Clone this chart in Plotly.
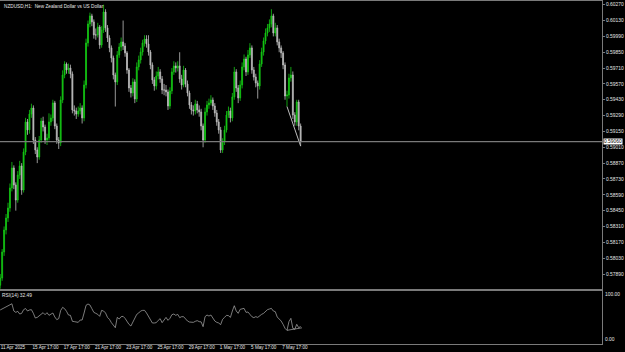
import plotly.graph_objects as go

# ---------------- data ----------------
SYMBOL_TITLE = "NZDUSD,H1:\u00a0 New Zealand Dollar vs US Dollar"
RSI_PERIOD = 14
RSI_LAST = 32.49
CURRENT_PRICE = 0.59060

# H1 bar index of each plotted candle (one candle per 3 hourly bars)
BAR_INDEX = list(range(0, 463, 3))
FIRST_OPEN = 0.57790

CLOSE = [
    0.57854, 0.58084, 0.58279, 0.58385, 0.58473, 0.58650, 0.58827, 0.58677, 0.58544, 0.58765,
    0.58845, 0.58632, 0.58968, 0.59234, 0.59163, 0.59304, 0.59357, 0.59074, 0.58986, 0.58924,
    0.59074, 0.59242, 0.59189, 0.59074, 0.59092, 0.59234, 0.59269, 0.59402, 0.59198, 0.59074,
    0.59048, 0.59428, 0.59649, 0.59746, 0.59693, 0.59711, 0.59658, 0.59340, 0.59331, 0.59304,
    0.59331, 0.59357, 0.59269, 0.59561, 0.59932, 0.60100, 0.60171, 0.60118, 0.60003, 0.60003,
    0.60073, 0.59914, 0.60047, 0.60206, 0.60065, 0.59976, 0.59888, 0.59799, 0.59649, 0.59587,
    0.59826, 0.59897, 0.59941, 0.59905, 0.59844, 0.59693, 0.59534, 0.59490, 0.59587, 0.59437,
    0.59720, 0.59782, 0.59852, 0.59932, 0.59967, 0.59923, 0.59852, 0.59737, 0.59605, 0.59552,
    0.59640, 0.59676, 0.59614, 0.59516, 0.59516, 0.59499, 0.59375, 0.59508, 0.59676, 0.59729,
    0.59711, 0.59729, 0.59614, 0.59561, 0.59693, 0.59569, 0.59490, 0.59384, 0.59340, 0.59331,
    0.59393, 0.59340, 0.59322, 0.59198, 0.59074, 0.59322, 0.59384, 0.59402, 0.59428, 0.59375,
    0.59313, 0.59234, 0.59163, 0.58986, 0.59057, 0.59163, 0.59295, 0.59331, 0.59269, 0.59455,
    0.59676, 0.59534, 0.59446, 0.59561, 0.59720, 0.59790, 0.59676, 0.59826, 0.59888, 0.59693,
    0.59631, 0.59578, 0.59552, 0.59746, 0.59852, 0.59950, 0.60020, 0.60065, 0.60100, 0.60171,
    0.60020, 0.60065, 0.59941, 0.59888, 0.59844, 0.59737, 0.59463, 0.59472, 0.59623, 0.59649,
    0.59295, 0.59234, 0.59410, 0.59198, 0.59060,
]

HIGH = [
    0.57890, 0.58110, 0.58310, 0.58420, 0.58520, 0.58690, 0.58880, 0.58850, 0.58700, 0.58800,
    0.58890, 0.58870, 0.59000, 0.59270, 0.59260, 0.59340, 0.59395, 0.59380, 0.59100, 0.59010,
    0.59110, 0.59270, 0.59280, 0.59210, 0.59130, 0.59310, 0.59300, 0.59430, 0.59420, 0.59220,
    0.59100, 0.59460, 0.59690, 0.59770, 0.59760, 0.59750, 0.59740, 0.59680, 0.59380, 0.59360,
    0.59370, 0.59400, 0.59380, 0.59600, 0.59970, 0.60130, 0.60200, 0.60190, 0.60140, 0.60060,
    0.60110, 0.60090, 0.60080, 0.60270, 0.60230, 0.60090, 0.60000, 0.59910, 0.59820, 0.59670,
    0.59860, 0.59930, 0.59980, 0.60130, 0.59930, 0.59860, 0.59710, 0.59560, 0.59620, 0.59610,
    0.59760, 0.59820, 0.59890, 0.59960, 0.60000, 0.60000, 0.60000, 0.59870, 0.59760, 0.59630,
    0.59680, 0.59720, 0.59700, 0.59640, 0.59570, 0.59560, 0.59520, 0.59540, 0.59710, 0.59770,
    0.59760, 0.59770, 0.59850, 0.59650, 0.59730, 0.59710, 0.59600, 0.59510, 0.59410, 0.59380,
    0.59430, 0.59420, 0.59380, 0.59350, 0.59220, 0.59360, 0.59420, 0.59440, 0.59470, 0.59450,
    0.59400, 0.59340, 0.59260, 0.59190, 0.59090, 0.59200, 0.59330, 0.59370, 0.59360, 0.59490,
    0.59720, 0.59700, 0.59560, 0.59600, 0.59760, 0.59830, 0.59810, 0.59870, 0.59930, 0.59910,
    0.59720, 0.59660, 0.59600, 0.59780, 0.59890, 0.59980, 0.60060, 0.60100, 0.60140, 0.60230,
    0.60190, 0.60110, 0.60090, 0.59970, 0.59910, 0.59860, 0.59760, 0.59510, 0.59660, 0.59720,
    0.59680, 0.59320, 0.59430, 0.59430, 0.59220,
]

LOW = [
    0.57760, 0.57830, 0.58050, 0.58240, 0.58350, 0.58440, 0.58620, 0.58640, 0.58450, 0.58520,
    0.58730, 0.58590, 0.58610, 0.58940, 0.59120, 0.59130, 0.59270, 0.59040, 0.58950, 0.58870,
    0.58900, 0.59050, 0.59150, 0.59040, 0.59030, 0.59070, 0.59200, 0.59240, 0.59170, 0.59040,
    0.58995, 0.59020, 0.59400, 0.59620, 0.59660, 0.59660, 0.59620, 0.59310, 0.59290, 0.59260,
    0.59280, 0.59300, 0.59220, 0.59240, 0.59530, 0.59900, 0.60070, 0.60080, 0.59970, 0.59960,
    0.59980, 0.59880, 0.59890, 0.60020, 0.60030, 0.59940, 0.59850, 0.59760, 0.59610, 0.59370,
    0.59560, 0.59800, 0.59860, 0.59870, 0.59810, 0.59660, 0.59500, 0.59450, 0.59460, 0.59400,
    0.59410, 0.59690, 0.59750, 0.59820, 0.59900, 0.59890, 0.59820, 0.59700, 0.59570, 0.59510,
    0.59520, 0.59610, 0.59580, 0.59480, 0.59470, 0.59460, 0.59340, 0.59350, 0.59480, 0.59650,
    0.59670, 0.59680, 0.59580, 0.59520, 0.59540, 0.59540, 0.59460, 0.59350, 0.59300, 0.59290,
    0.59300, 0.59310, 0.59280, 0.59160, 0.59010, 0.59050, 0.59290, 0.59350, 0.59380, 0.59340,
    0.59280, 0.59200, 0.59130, 0.58960, 0.58960, 0.59030, 0.59140, 0.59270, 0.59230, 0.59240,
    0.59430, 0.59500, 0.59400, 0.59420, 0.59530, 0.59690, 0.59640, 0.59650, 0.59800, 0.59660,
    0.59600, 0.59540, 0.59440, 0.59520, 0.59720, 0.59820, 0.59920, 0.59990, 0.60030, 0.60070,
    0.59990, 0.59990, 0.59910, 0.59850, 0.59800, 0.59700, 0.59430, 0.59370, 0.59440, 0.59590,
    0.59260, 0.59200, 0.59200, 0.59160, 0.59020,
]

RSI = [
    63.0, 64.8, 66.6, 68.5, 70.9, 72.2, 74.5, 61.1, 58.6, 60.5,
    55.5, 56.8, 63.6, 65.7, 61.1, 63.0, 63.6, 56.8, 48.1, 49.3,
    52.5, 55.5, 58.0, 54.3, 58.0, 53.1, 55.5, 57.4, 50.0, 45.1,
    47.0, 62.0, 67.9, 65.4, 60.5, 53.7, 53.1, 42.0, 41.4, 41.0,
    40.1, 44.4, 44.4, 57.4, 71.6, 74.1, 72.2, 65.4, 58.6, 56.8,
    54.9, 51.2, 62.3, 61.1, 57.4, 49.3, 45.7, 39.5, 35.2, 30.2,
    49.3, 46.3, 50.6, 51.2, 47.5, 40.7, 36.4, 33.3, 41.4, 49.3,
    54.9, 57.4, 61.1, 62.3, 62.3, 57.4, 50.6, 46.3, 38.9, 38.9,
    39.5, 43.8, 46.9, 39.5, 45.7, 49.3, 43.8, 47.5, 54.3, 55.5,
    53.1, 54.9, 48.8, 50.6, 50.6, 45.7, 42.6, 40.7, 40.7, 40.1,
    42.0, 43.2, 41.4, 41.0, 32.1, 50.6, 53.7, 51.8, 53.7, 48.8,
    42.6, 40.1, 38.9, 35.8, 45.7, 49.3, 53.1, 52.5, 49.3, 61.1,
    70.9, 61.1, 56.8, 64.2, 64.8, 66.0, 58.6, 59.3, 54.9, 50.6,
    48.8, 50.6, 49.3, 53.1, 54.9, 56.8, 60.5, 63.6, 64.8, 66.0,
    61.1, 59.9, 50.0, 46.3, 42.6, 36.4, 29.0, 25.3, 41.4, 47.5,
    29.0, 27.2, 36.4, 30.2, 32.49,
]

# user-drawn trend lines (bar index, value)
PRICE_TL_IDX = [441, 462]
PRICE_TL_VAL = [0.59370, 0.59020]
RSI_TL_IDX = [441, 464]
RSI_TL_VAL = [25.3, 30.0]

PRICE_TICKS = [0.57890, 0.58030, 0.58170, 0.58310, 0.58450, 0.58590, 0.58730, 0.58870,
               0.59010, 0.59150, 0.59290, 0.59430, 0.59570, 0.59710, 0.59850, 0.59990,
               0.60130, 0.60270]
TIME_TICK_IDX = [0, 49, 97, 145, 193, 241, 289, 337, 385, 433]
TIME_TICK_TEXT = ["11 Apr 2025", "15 Apr 17:00", "17 Apr 17:00", "21 Apr 17:00",
                  "23 Apr 17:00", "25 Apr 17:00", "29 Apr 17:00", "1 May 17:00",
                  "5 May 17:00", "7 May 17:00"]

# ---------------- style ----------------
BG = "#000000"
FRAME = "#7a7a7a"
TEXT = "#e6e6e6"
UP = "#14c814"
DOWN = "#bebebe"
FONT = "Liberation Sans, Arial, sans-serif"

W, H = 625, 352
M_L, M_R, M_T, M_B = 0, 23, 1, 8
plot_h = H - M_T - M_B
split = 54 / plot_h

OPEN = [FIRST_OPEN] + CLOSE[:-1]

fig = go.Figure()
fig.add_trace(go.Candlestick(
    x=BAR_INDEX, open=OPEN, high=HIGH, low=LOW, close=CLOSE,
    increasing=dict(line=dict(color=UP, width=0.8), fillcolor=UP),
    decreasing=dict(line=dict(color=DOWN, width=0.8), fillcolor=DOWN),
    whiskerwidth=0, xaxis="x", yaxis="y", showlegend=False, hoverinfo="skip",
))
fig.add_trace(go.Scatter(
    x=PRICE_TL_IDX, y=PRICE_TL_VAL, mode="lines",
    line=dict(color="#bdbdbd", width=1), xaxis="x", yaxis="y",
    showlegend=False, hoverinfo="skip",
))
fig.add_trace(go.Scatter(
    x=BAR_INDEX, y=RSI, mode="lines",
    line=dict(color="#b0b0b0", width=0.7), xaxis="x2", yaxis="y2",
    showlegend=False, hoverinfo="skip",
))
fig.add_trace(go.Scatter(
    x=RSI_TL_IDX, y=RSI_TL_VAL, mode="lines",
    line=dict(color="#b0b0b0", width=0.7), xaxis="x2", yaxis="y2",
    showlegend=False, hoverinfo="skip",
))

x_range = [-0.3, 925.4]
y_top = 0.603027
y_bot = 0.577486

fig.update_layout(
    width=W, height=H,
    margin=dict(l=M_L, r=M_R, t=M_T, b=M_B, pad=0),
    paper_bgcolor=BG, plot_bgcolor=BG,
    font=dict(family=FONT, color=TEXT, size=5),
    showlegend=False,
    xaxis=dict(domain=[0, 1], range=x_range, anchor="y",
               showline=True, mirror=True, linecolor=FRAME, linewidth=1,
               showgrid=False, zeroline=False, showticklabels=False, ticks="",
               rangeslider=dict(visible=False), fixedrange=True),
    xaxis2=dict(domain=[0, 1], range=x_range, anchor="y2", matches="x",
                showline=True, mirror=True, linecolor=FRAME, linewidth=1,
                showgrid=False, zeroline=False,
                tickmode="array", tickvals=TIME_TICK_IDX, ticktext=TIME_TICK_TEXT,
                ticklabelposition="outside right", tickangle=0, ticks="",
                ticklabelstandoff=-2,
                tickfont=dict(size=4.6, color=TEXT, family=FONT),
                automargin=False),
    yaxis=dict(domain=[split, 1], range=[y_bot, y_top], side="right", anchor="x",
               showline=True, linecolor=FRAME, linewidth=1,
               showgrid=False, zeroline=False,
               tickmode="array", tickvals=PRICE_TICKS,
               ticktext=[f"{v:.5f}" for v in PRICE_TICKS],
               ticks="outside", ticklen=2, tickcolor=FRAME,
               tickfont=dict(size=4.9, color=TEXT, family=FONT), automargin=False),
    yaxis2=dict(domain=[0, split], range=[0, 100], side="right", anchor="x2",
                showline=True, linecolor=FRAME, linewidth=1,
                showgrid=False, zeroline=False, showticklabels=False, ticks=""),
    shapes=[dict(type="line", xref="x domain", x0=0, x1=1, yref="y",
                 y0=CURRENT_PRICE, y1=CURRENT_PRICE,
                 line=dict(color=FRAME, width=1.2))],
    annotations=[
        dict(text=SYMBOL_TITLE, xref="paper", yref="paper", x=0, y=1,
             xanchor="left", yanchor="top", xshift=2, yshift=-1, showarrow=False,
             font=dict(size=4.7, color=TEXT, family=FONT)),
        dict(text=f"RSI({RSI_PERIOD}) {RSI_LAST:.2f}", xref="paper", yref="paper",
             x=0, y=split, xanchor="left", yanchor="top", xshift=0, yshift=-1,
             showarrow=False, font=dict(size=4.8, color=TEXT, family=FONT)),
        dict(text="100.00", xref="paper", yref="y2", x=1, y=100,
             xanchor="left", yanchor="top", xshift=1, showarrow=False,
             font=dict(size=4.9, color=TEXT, family=FONT)),
        dict(text="0.00", xref="paper", yref="y2", x=1, y=0,
             xanchor="left", yanchor="bottom", xshift=1, showarrow=False,
             font=dict(size=4.9, color=TEXT, family=FONT)),
        dict(text=f"{CURRENT_PRICE:.5f}", xref="paper", yref="y", x=1, y=CURRENT_PRICE,
             xanchor="left", yanchor="middle", xshift=1, showarrow=False,
             bgcolor="#ffffff", borderpad=0,
             font=dict(size=4.9, color="#000000", family=FONT)),
    ],
)

fig.write_html("out.html")
